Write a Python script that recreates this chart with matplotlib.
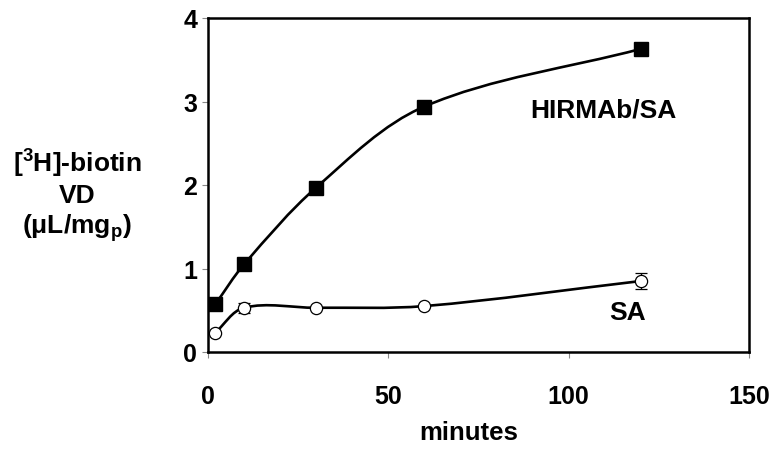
import numpy as np
import matplotlib.pyplot as plt
from matplotlib.path import Path
from matplotlib.patches import PathPatch

# values
minutes = [2, 10, 30, 60, 120]
hirmab_sa = [0.57, 1.05, 1.97, 2.94, 3.63]
sa = [0.23, 0.53, 0.53, 0.55, 0.85]
sa_err = [0.0, 0.06, 0.0, 0.0, 0.10]

x_ticks = [0, 50, 100, 150]
y_ticks = [0, 1, 2, 3, 4]

plt.rcParams['font.family'] = 'Liberation Sans'
plt.rcParams['font.weight'] = 'bold'
plt.rcParams['mathtext.fontset'] = 'custom'
plt.rcParams['mathtext.rm'] = 'Liberation Sans:bold'
plt.rcParams['mathtext.it'] = 'Liberation Sans:bold'
plt.rcParams['mathtext.bf'] = 'Liberation Sans:bold'


def smooth_path(x, y, sx, sy):
    # smoothed line like a spreadsheet chart: Bezier handles along the
    # neighbour chord, scaled by the length of each segment
    p = np.column_stack([np.asarray(x, float) / sx, np.asarray(y, float) / sy])
    n = len(p)
    seg = np.linalg.norm(np.diff(p, axis=0), axis=1)
    tang = []
    for i in range(n):
        a = p[i - 1] if i > 0 else p[i]
        b = p[i + 1] if i < n - 1 else p[i]
        d = b - a
        tang.append(d / np.linalg.norm(d))
    verts = [p[0]]
    codes = [Path.MOVETO]
    for i in range(n - 1):
        c1 = p[i] + tang[i] * seg[i] / 3
        c2 = p[i + 1] - tang[i + 1] * seg[i] / 3
        verts += [c1, c2, p[i + 1]]
        codes += [Path.CURVE4] * 3
    verts = np.array(verts) * [sx, sy]
    return Path(verts, codes)


fig = plt.figure(figsize=(7.76, 4.52), dpi=100)
ax = fig.add_axes([208 / 776, 1 - 353 / 452, 541 / 776, 334 / 452])

ax.set_xlim(0, 150)
ax.set_ylim(0, 4)

# data units per pixel, so the smoothing works on the drawn shape
for yy in (hirmab_sa, sa):
    ax.add_patch(PathPatch(smooth_path(minutes, yy, 150 / 541, 4 / 334),
                           fill=False, edgecolor='black', lw=1.9, zorder=2))

ax.errorbar(minutes, sa, yerr=sa_err, fmt='none', ecolor='black',
            elinewidth=0.9, capsize=4.5, capthick=0.9, zorder=3)
ax.plot(minutes, hirmab_sa, 's', color='black', markersize=9.4,
        linestyle='none', zorder=4)
ax.plot(minutes, sa, 'o', markerfacecolor='white', markeredgecolor='black',
        markeredgewidth=0.9, markersize=8.8, linestyle='none', zorder=4)

ax.text(109.5, 2.91, 'HIRMAb/SA', fontsize=19, fontweight='bold',
        ha='center', va='center')
ax.text(116.4, 0.48, 'SA', fontsize=19, fontweight='bold',
        ha='center', va='center')

ax.set_xticks(x_ticks)
ax.set_yticks(y_ticks)
ax.tick_params(axis='both', direction='out', length=4.3, width=0.8,
               color='#888888', labelsize=18)
ax.tick_params(axis='x', pad=18.5)
ax.tick_params(axis='y', pad=3.6)
for lab in ax.get_xticklabels() + ax.get_yticklabels():
    lab.set_fontweight('bold')

for sp in ax.spines.values():
    sp.set_linewidth(1.8)
    sp.set_color('black')

fig.text(469 / 776, 1 - 433 / 452, 'minutes', fontsize=18.5,
         fontweight='bold', ha='center', va='center')
fig.text(77 / 776, 1 - 196 / 452,
         '[$^{3}$H]-biotin\nVD\n(\u03bcL/mg$_{p}$)', fontsize=19,
         fontweight='bold', ha='center', va='center',
         multialignment='center', linespacing=1.2)

fig.savefig('out.png', dpi=100, facecolor='white')
